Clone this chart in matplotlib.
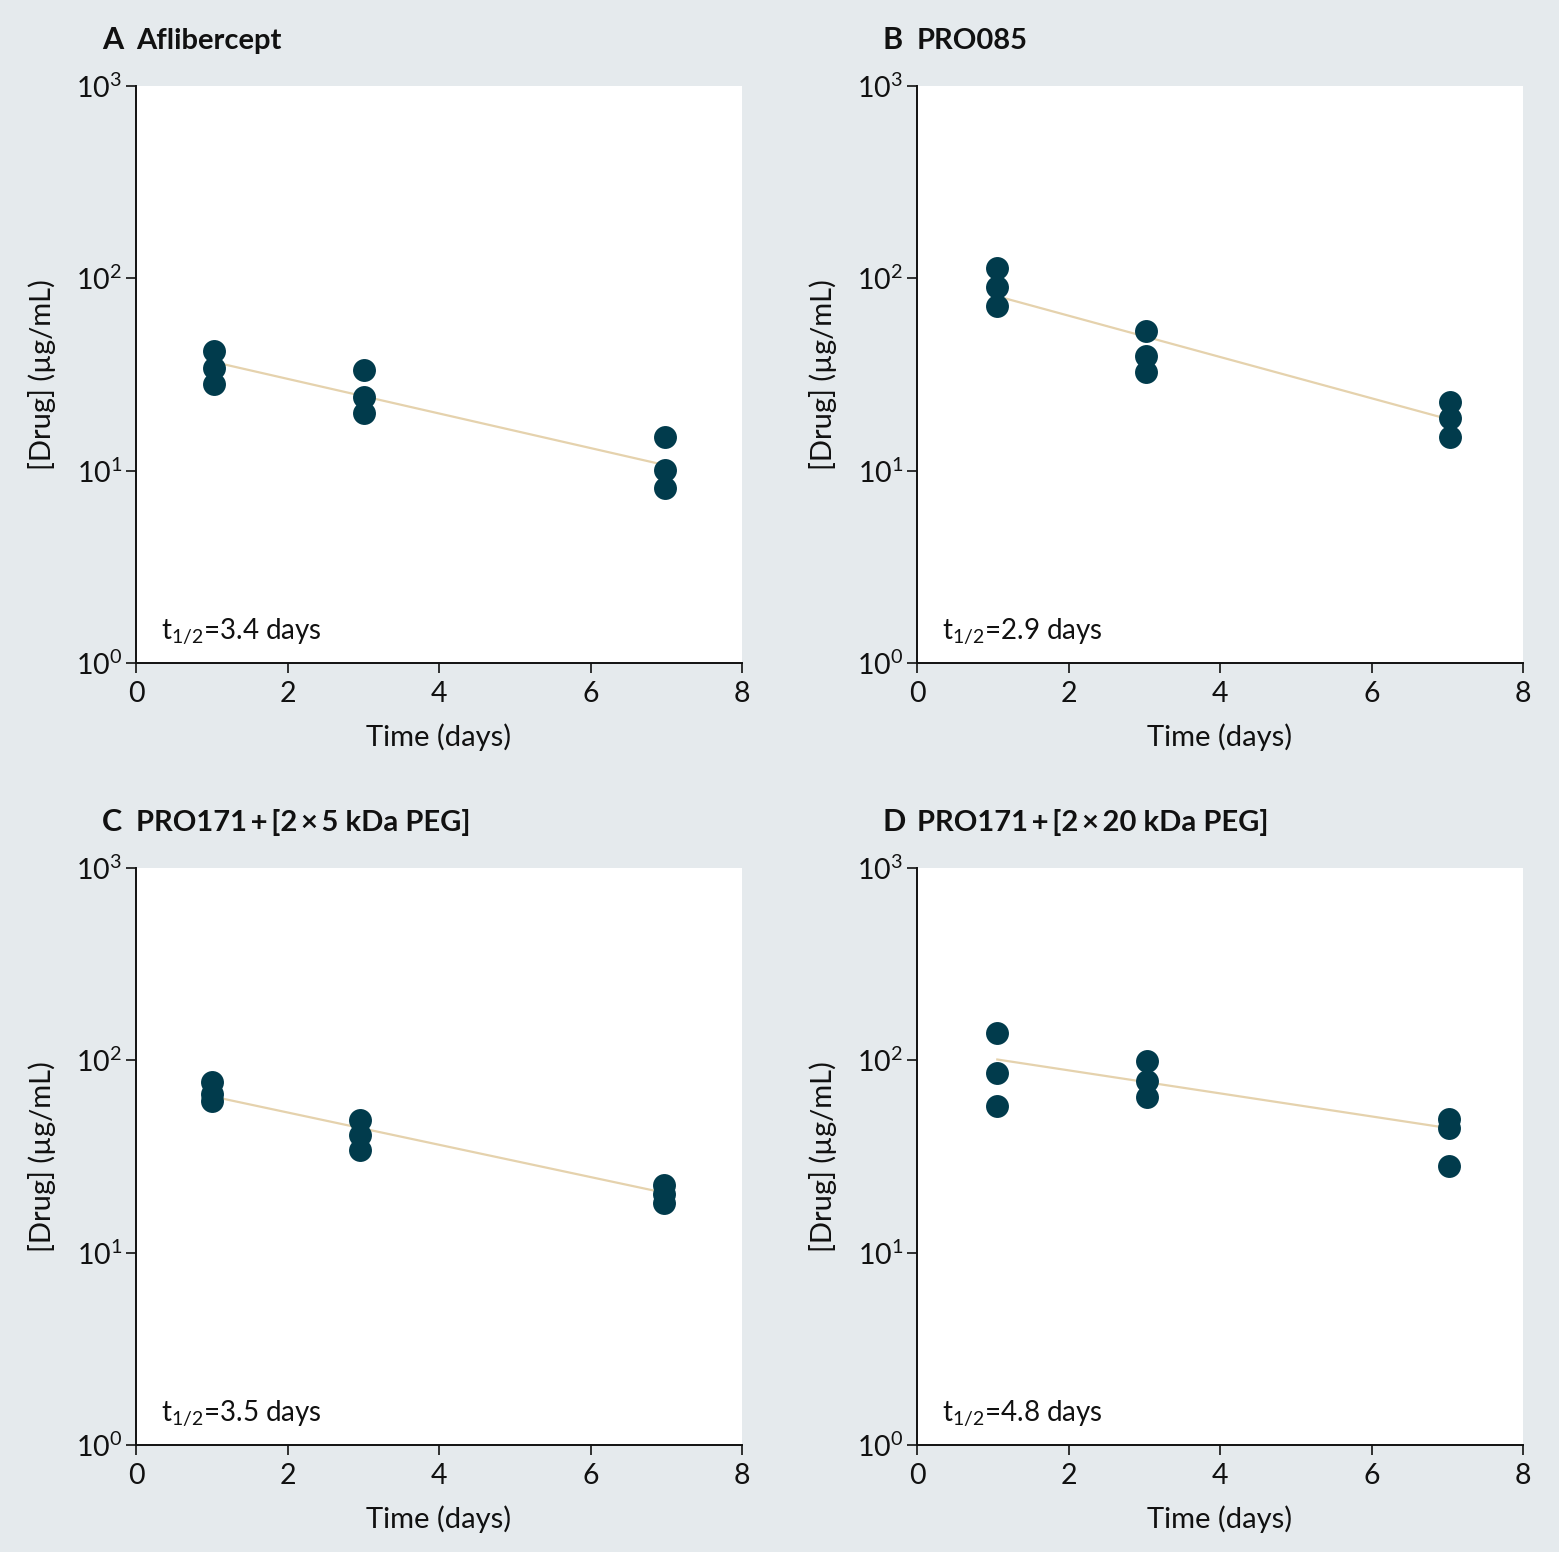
import matplotlib
matplotlib.use("Agg")
import matplotlib.pyplot as plt
from matplotlib.ticker import FixedLocator, FixedFormatter, NullLocator

plt.rcParams['font.family'] = ['Lato', 'DejaVu Sans']
plt.rcParams['mathtext.fontset'] = 'custom'
plt.rcParams['mathtext.rm'] = 'Lato'
plt.rcParams['mathtext.it'] = 'Lato:italic'
plt.rcParams['mathtext.bf'] = 'Lato:bold'

# ---- data ----
panel_letters = ["A", "B", "C", "D"]
panel_titles = ["Aflibercept", "PRO085",
                "PRO171\u2009+\u2009[2\u2009×\u20095 kDa PEG]",
                "PRO171\u2009+\u2009[2\u2009×\u200920 kDa PEG]"]
half_lives = ["3.4", "2.9", "3.5", "4.8"]

days_A = [1.03, 3.01, 6.98]
days_B = [1.05, 3.02, 7.04]
days_C = [1.00, 2.96, 6.97]
days_D = [1.06, 3.04, 7.02]

conc_A = [[41.9, 34.2, 28.2], [33.3, 24.1, 19.9], [15.0, 10.1, 8.1]]
conc_B = [[113.0, 90.0, 71.8], [53.2, 39.4, 32.6], [22.7, 18.8, 15.0]]
conc_C = [[77.2, 67.0, 61.1], [49.1, 40.8, 34.0], [22.5, 20.1, 18.2]]
conc_D = [[138.7, 86.0, 58.2], [98.9, 78.5, 64.3], [49.7, 44.4, 28.2]]

fit_x_A = [1.03, 6.98]; fit_y_A = [36.7, 10.7]
fit_x_B = [1.05, 7.04]; fit_y_B = [80.9, 18.4]
fit_x_C = [1.00, 6.97]; fit_y_C = [65.0, 20.5]
fit_x_D = [1.06, 7.02]; fit_y_D = [101.0, 44.4]

x_ticks = [0, 2, 4, 6, 8]
y_ticks = [1, 10, 100, 1000]
y_tick_labels = [r"$\mathregular{10^{0}}$", r"$\mathregular{10^{1}}$",
                 r"$\mathregular{10^{2}}$", r"$\mathregular{10^{3}}$"]

days_all = [days_A, days_B, days_C, days_D]
conc_all = [conc_A, conc_B, conc_C, conc_D]
fit_x_all = [fit_x_A, fit_x_B, fit_x_C, fit_x_D]
fit_y_all = [fit_y_A, fit_y_B, fit_y_C, fit_y_D]

# ---- style ----
BG = "#e5eaed"
DOT = "#013b4c"
LINE = "#e5d2ad"
INK = "#111111"
W, H = 1559, 1552

fig = plt.figure(figsize=(W / 100, H / 100), dpi=100, facecolor=BG)

lefts = [136, 917, 136, 917]
tops = [86, 86, 868, 868]
aw, ah = 606, 577
title_base = [49, 49, 831, 831]

for i in range(4):
    l, t = lefts[i], tops[i]
    ax = fig.add_axes([l / W, 1 - (t + ah) / H, aw / W, ah / H])
    ax.set_facecolor("white")
    ax.plot(fit_x_all[i], fit_y_all[i], color=LINE, lw=1.6, zorder=2)
    for d, vals in zip(days_all[i], conc_all[i]):
        ax.plot([d] * len(vals), vals, 'o', color=DOT, ms=16.5, mec='none', zorder=3)
    ax.set_yscale('log')
    ax.set_xlim(0, 8)
    ax.set_ylim(1, 1000)
    ax.xaxis.set_major_locator(FixedLocator(x_ticks))
    ax.yaxis.set_major_locator(FixedLocator(y_ticks))
    ax.yaxis.set_major_formatter(FixedFormatter(y_tick_labels))
    ax.yaxis.set_minor_locator(NullLocator())
    for s in ['top', 'right']:
        ax.spines[s].set_visible(False)
    for s in ['left', 'bottom']:
        ax.spines[s].set_linewidth(1.4)
        ax.spines[s].set_color(INK)
    ax.tick_params(axis='both', which='major', length=7, width=1.2, labelsize=20.5,
                   color=INK, labelcolor=INK)
    ax.tick_params(axis='x', pad=6)
    ax.tick_params(axis='y', pad=3)
    ax.set_xlabel("Time (days)", fontsize=21, labelpad=12, color=INK)
    ax.set_ylabel("[Drug] (µg/mL)", fontsize=21, labelpad=14, color=INK)
    ax.text(0.042, 0.04, r"t$_{\mathregular{1/2}}$=" + half_lives[i] + " days",
            transform=ax.transAxes, fontsize=20, ha='left', va='baseline', color=INK)
    # panel titles
    fig.text((l - 34) / W, 1 - title_base[i] / H, panel_letters[i], fontsize=22,
             fontweight='bold', ha='left', va='baseline', color=INK)
    fig.text(l / W, 1 - title_base[i] / H, panel_titles[i], fontsize=21,
             fontweight='bold', ha='left', va='baseline', color=INK)

fig.savefig("out.png", dpi=100, facecolor=BG)
